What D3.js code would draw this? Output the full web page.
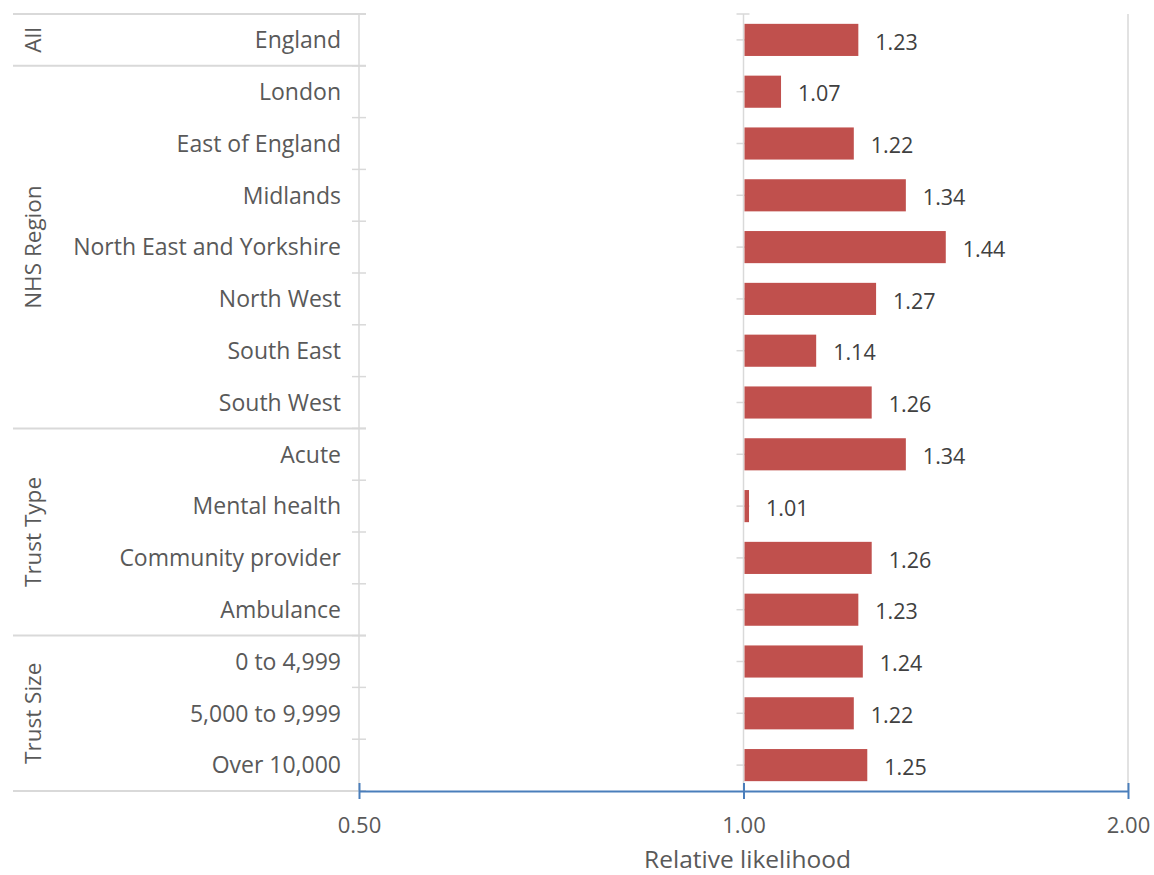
<!DOCTYPE html>
<html>
<head>
<meta charset="utf-8">
<script src="https://cdn.jsdelivr.net/npm/d3@7"></script>
<style>
  html, body { margin: 0; padding: 0; background: #fff; }
  svg { display: block; font-family: "Open Sans", Lato, sans-serif; }
</style>
</head>
<body>
<svg id="chart" width="1154" height="875"></svg>
<script>
// Categories in display order, with their group
const categories = [
  "England",
  "London", "East of England", "Midlands", "North East and Yorkshire",
  "North West", "South East", "South West",
  "Acute", "Mental health", "Community provider", "Ambulance",
  "0 to 4,999", "5,000 to 9,999", "Over 10,000"
];
const values = [1.23, 1.07, 1.22, 1.34, 1.44, 1.27, 1.14, 1.26, 1.34, 1.01, 1.26, 1.23, 1.24, 1.22, 1.25];
const groups = ["All", "NHS Region", "Trust Type", "Trust Size"];
const groupSizes = [1, 7, 4, 3];
const xTicks = [0.5, 1, 2];
const xTitle = "Relative likelihood";

const svg = d3.select("#chart");
const plotLeft = 359, plotRight = 1128, plotTop = 14, plotBottom = 791;
const groupLeft = 13;
const gridColor = "#d9d9d9";
const axisBlue = "#4a7ebb";
const textColor = "#595959";
const fontFamily = "'Open Sans', Lato, sans-serif";

const x = d3.scaleLog().base(2).domain([0.5, 2]).range([plotLeft, plotRight]);
const y = d3.scaleBand().domain(categories).range([plotTop, plotBottom]).paddingInner(0.38).paddingOuter(0.19);
const rowTop = i => plotTop + i * (plotBottom - plotTop) / categories.length;

// vertical gridlines
svg.append("g").selectAll("line").data(xTicks).join("line")
  .attr("x1", d => x(d)).attr("x2", d => x(d))
  .attr("y1", plotTop).attr("y2", plotBottom)
  .attr("stroke", gridColor).attr("stroke-width", 1.5);

// category ticks on the 1.00 line (at row centres and top)
const centres = categories.map(c => y(c) + y.bandwidth() / 2);
svg.append("g").selectAll("line").data([plotTop].concat(centres)).join("line")
  .attr("x1", x(1) - 7).attr("x2", x(1) + 6)
  .attr("y1", d => d).attr("y2", d => d)
  .attr("stroke", gridColor).attr("stroke-width", 1.5);

// category boundary ticks on the left edge
const boundaries = d3.range(categories.length + 1).map(rowTop);
svg.append("g").selectAll("line").data(boundaries).join("line")
  .attr("x1", plotLeft - 7).attr("x2", plotLeft + 7)
  .attr("y1", d => d).attr("y2", d => d)
  .attr("stroke", gridColor).attr("stroke-width", 1.5);

// group separators
let cum = 0;
const groupBounds = [0];
groupSizes.forEach(s => { cum += s; groupBounds.push(cum); });
svg.append("g").selectAll("line").data(groupBounds).join("line")
  .attr("x1", groupLeft).attr("x2", plotLeft + 7)
  .attr("y1", d => rowTop(d)).attr("y2", d => rowTop(d))
  .attr("stroke", gridColor).attr("stroke-width", 2);

// bars
svg.append("g").selectAll("rect").data(categories).join("rect")
  .attr("x", x(1) + 1)
  .attr("y", d => y(d))
  .attr("width", (d, i) => x(values[i]) - x(1) - 1)
  .attr("height", y.bandwidth())
  .attr("fill", "#c0504d");

// value labels
svg.append("g").selectAll("text").data(categories).join("text")
  .attr("x", (d, i) => x(values[i]) + 17)
  .attr("y", d => y(d) + y.bandwidth() / 2 + 2)
  .attr("dy", "0.36em")
  .attr("font-size", 21.5)
  .attr("fill", "#404040")
  .text((d, i) => values[i].toFixed(2));

// category labels
svg.append("g").selectAll("text").data(categories).join("text")
  .attr("x", plotLeft - 18)
  .attr("y", d => y(d) + y.bandwidth() / 2)
  .attr("dy", "0.36em")
  .attr("text-anchor", "end")
  .attr("font-size", 23)
  .attr("fill", textColor)
  .text(d => d);

// group labels (rotated)
svg.append("g").selectAll("text").data(groups).join("text")
  .attr("transform", (d, i) => {
    const cy = (rowTop(groupBounds[i]) + rowTop(groupBounds[i + 1])) / 2;
    return `translate(33,${cy}) rotate(-90)`;
  })
  .attr("text-anchor", "middle")
  .attr("dy", "0.36em")
  .attr("font-size", 22.5)
  .attr("fill", textColor)
  .text(d => d);

// bottom grey line under the label columns
svg.append("line")
  .attr("x1", groupLeft).attr("x2", plotLeft)
  .attr("y1", plotBottom).attr("y2", plotBottom)
  .attr("stroke", gridColor).attr("stroke-width", 2);

// value axis
const xAxis = d3.axisBottom(x).tickValues(xTicks).tickFormat(d3.format(".2f")).tickSize(0).tickPadding(26);
const ax = svg.append("g").attr("transform", `translate(0,${plotBottom})`).call(xAxis);
ax.select(".domain").attr("stroke", axisBlue).attr("stroke-width", 2);
ax.selectAll(".tick text").attr("font-size", 22).attr("fill", textColor).attr("font-family", fontFamily);
ax.selectAll(".tick").append("line")
  .attr("y1", -8).attr("y2", 8)
  .attr("stroke", axisBlue).attr("stroke-width", 2);

svg.append("text")
  .attr("x", x(1) + 4)
  .attr("y", 868)
  .attr("text-anchor", "middle")
  .attr("font-size", 24.5)
  .attr("fill", textColor)
  .text(xTitle);
</script>
</body>
</html>
